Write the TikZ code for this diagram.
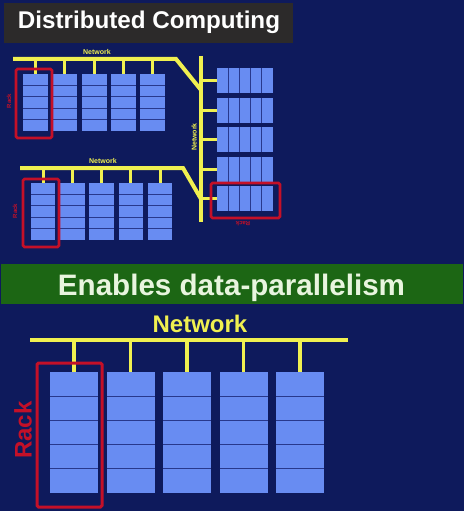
\documentclass[tikz,border=0pt]{standalone}
\usepackage{fontspec}
\setmainfont{Liberation Sans}
\usetikzlibrary{calc}
\definecolor{bg}{RGB}{14,26,92}
\definecolor{titlegray}{RGB}{44,42,42}
\definecolor{bannergreen}{RGB}{28,102,20}
\definecolor{bannertext}{RGB}{232,245,222}
\definecolor{rackblue}{RGB}{104,140,242}
\definecolor{divblue}{RGB}{40,56,140}
\definecolor{netyellow}{RGB}{240,240,80}
\definecolor{rackred}{RGB}{196,16,40}
\tikzset{
  vrack/.style={fill=rackblue, inner sep=0pt, outer sep=0pt},
  net/.style={draw=netyellow, line width=4pt, line join=miter},
  drop/.style={draw=netyellow, line width=3pt},
  div/.style={draw=divblue, line width=0.8pt},
  redbox/.style={draw=rackred, line width=2.8pt, rounded corners=1.5pt},
  smalllabel/.style={font=\bfseries\fontsize{7}{7}\selectfont, inner sep=0pt},
}
\newcommand{\hdivs}[1]{\foreach \k in {0.2,0.4,0.6,0.8}{\draw[div] ($(#1.north west)!\k!(#1.south west)$) -- ($(#1.north east)!\k!(#1.south east)$);}}
\newcommand{\vdivs}[1]{\foreach \k in {0.2,0.4,0.6,0.8}{\draw[div] ($(#1.north west)!\k!(#1.north east)$) -- ($(#1.south west)!\k!(#1.south east)$);}}
\begin{document}
\begin{tikzpicture}[x=1pt,y=-1pt]
\fill[bg] (0,0) rectangle (464,511);
\useasboundingbox (0,0) rectangle (464,511);
% title
\node[fill=titlegray, minimum width=289pt, minimum height=40pt, inner sep=0pt] (titlebox) at (148.5,23) {};
\node[inner sep=0pt, text=white, font=\bfseries\fontsize{24.2}{24}\selectfont, anchor=base] (title) at (149,29) {Distributed Computing};
% banner
\node[fill=bannergreen, minimum width=462pt, minimum height=40pt, inner sep=0pt] (banner) at (232,283.5) {};
\node[inner sep=0pt, text=bannertext, font=\bfseries\fontsize{29.6}{30}\selectfont, anchor=base] (bannertxt) at (231.5,295) {Enables data-parallelism};

% ---------- top-left cluster
\coordinate (n1w) at (13,59);
\coordinate (n1e) at (176,59);
\coordinate (vt) at (201,56);
\coordinate (vb) at (201,222);
\coordinate (j1) at (201,90);
\coordinate (n2w) at (20,168);
\coordinate (n2e) at (183,168);
\coordinate (j2) at (201,199);
\draw[net] (vt) -- (vb);
\draw[net] (n1w) -- (n1e) -- (j1);
\draw[net] (n2w) -- (n2e) -- (j2);

\foreach \i in {0,...,4}{
  \node[vrack, minimum width=25pt, minimum height=57pt] (a\i) at ({35.5+29.25*\i},102.5) {};
  \hdivs{a\i}
  \draw[drop] (a\i.north |- n1w) -- (a\i.north);
  \node[vrack, minimum width=24.5pt, minimum height=57pt] (b\i) at ({43+29.25*\i},211.5) {};
  \hdivs{b\i}
  \draw[drop] (b\i.north |- n2w) -- (b\i.north);
  \node[vrack, minimum width=56pt, minimum height=25pt] (c\i) at (245,{80.5+29.5*\i}) {};
  \vdivs{c\i}
  \draw[drop] (vt |- c\i.west) -- (c\i.west);
}
\node[smalllabel, text=netyellow] (lab1) at (97,51.5) {Network};
\node[smalllabel, text=netyellow] (lab2) at (103,161) {Network};
\node[smalllabel, text=netyellow, rotate=90] (lab3) at (194,137) {Network};
\draw[redbox] (16,69) rectangle (52,138);
\draw[redbox] (23,179) rectangle (59,247);
\draw[redbox] (211,183) rectangle (280,218);
\node[smalllabel, text=rackred, rotate=90, font=\bfseries\fontsize{6}{6}\selectfont] (rk1) at (9,101) {Rack};
\node[smalllabel, text=rackred, rotate=90, font=\bfseries\fontsize{6}{6}\selectfont] (rk2) at (15,211) {Rack};
\node[smalllabel, text=rackred, rotate=180, font=\bfseries\fontsize{6}{6}\selectfont] (rk3) at (243,224) {Rack};

% ---------- bottom large cluster
\coordinate (n3w) at (30,340);
\coordinate (n3e) at (348,340);
\draw[net, line width=4.5pt] (n3w) -- (n3e);
\foreach \i in {0,...,4}{
  \node[vrack, minimum width=48pt, minimum height=121pt] (d\i) at ({74+56.5*\i},432.5) {};
  \hdivs{d\i}
  \draw[drop, line width=3.2pt] (d\i.north |- n3w) -- (d\i.north);
}
\node[inner sep=0pt, text=netyellow, font=\bfseries\fontsize{24}{24}\selectfont, anchor=base] (lab4) at (200,332) {Network};
\draw[redbox, line width=3pt] (37,363) rectangle (102,507);
\node[inner sep=0pt, text=rackred, rotate=90, font=\bfseries\fontsize{24}{24}\selectfont] (rk4) at (23,430) {Rack};
\end{tikzpicture}
\end{document}
